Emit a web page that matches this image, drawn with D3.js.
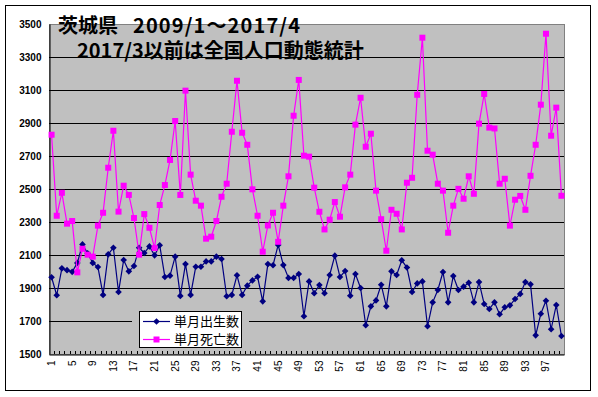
<!DOCTYPE html>
<html>
<head>
<meta charset="utf-8">
<title>茨城県 出生数・死亡数</title>
<style>
  body { margin: 0; background: #fff; }
  .tick text { font-family: Arial, "Liberation Sans", sans-serif; }
  .ttl { font-family: "Noto Sans CJK JP", sans-serif; font-weight: bold; font-size: 20px; }
  .leg { font-family: "Noto Sans CJK JP", sans-serif; font-size: 13px; }
</style>
</head>
<body>
<svg width="598" height="397"></svg>
<script src="https://d3js.org/d3.v7.min.js"></script>
<script>
// 月番号 1 = 2009/1 ... 100 = 2017/4
var months = d3.range(1, 101);
var xTickLabels = [1, 5, 9, 13, 17, 21, 25, 29, 33, 37, 41, 45, 49, 53, 57, 61, 65, 69, 73, 77, 81, 85, 89, 93, 97];
var yTicks = [1500, 1700, 1900, 2100, 2300, 2500, 2700, 2900, 3100, 3300, 3500];

// 単月出生数
var births = [1965, 1856, 2019, 2008, 1998, 2052, 2164, 2110, 2052, 2027,
  1858, 2104, 2144, 1876, 2070, 2001, 2033, 2144, 2112, 2152,
  2098, 2159, 1967, 1975, 2090, 1852, 2045, 1858, 2029, 2029,
  2061, 2061, 2090, 2076, 1850, 1858, 1977, 1858, 1914, 1946,
  1968, 1819, 2045, 2038, 2161, 2039, 1961, 1961, 1985, 1729,
  1940, 1868, 1918, 1868, 1979, 2096, 1967, 2003, 1853, 1985,
  1900, 1674, 1789, 1825, 1920, 1789, 2001, 1979, 2068, 2024,
  1876, 1928, 1940, 1668, 1813, 1888, 1997, 1813, 1973, 1888,
  1908, 1932, 1813, 1936, 1803, 1773, 1813, 1741, 1783, 1795,
  1833, 1864, 1936, 1922, 1613, 1744, 1823, 1650, 1797, 1609];

// 単月死亡数
var deaths = [2829, 2338, 2477, 2290, 2306, 1995, 2138, 2102, 2090, 2278,
  2356, 2629, 2853, 2363, 2520, 2464, 2324, 2102, 2348, 2265,
  2142, 2403, 2524, 2676, 2912, 2464, 3096, 2587, 2429, 2399,
  2199, 2211, 2306, 2453, 2532, 2847, 3156, 2841, 2768, 2498,
  2338, 2120, 2279, 2356, 2180, 2399, 2577, 2944, 3161, 2702,
  2696, 2508, 2362, 2255, 2314, 2421, 2332, 2510, 2587, 2890,
  3053, 2756, 2835, 2490, 2317, 2126, 2374, 2350, 2255, 2538,
  2568, 3071, 3417, 2732, 2708, 2532, 2490, 2235, 2399, 2501,
  2441, 2577, 2471, 2896, 3076, 2872, 2867, 2532, 2562, 2278,
  2435, 2458, 2374, 2580, 2768, 3011, 3441, 2823, 2993, 2459];

var seriesNames = ["単月出生数", "単月死亡数"];
var colors = ["#000080", "#ff00ff"];

var svg = d3.select("svg");
var pL = 49, pR = 564, pT = 24, pB = 354;

// 外枠
svg.append("rect")
  .attr("x", 5.5).attr("y", 5.5).attr("width", 585).attr("height", 385)
  .attr("fill", "#fff").attr("stroke", "#000").attr("stroke-width", 1);

var x = d3.scaleBand().domain(months).range([pL, pR]).padding(0);
var y = d3.scaleLinear().domain([1500, 3500]).range([pB, pT]);

// プロットエリア
svg.append("rect")
  .attr("x", pL + 0.5).attr("y", pT + 0.5).attr("width", pR - pL).attr("height", pB - pT)
  .attr("fill", "#c0c0c0").attr("stroke", "#808080").attr("stroke-width", 1);

// 目盛線
svg.append("g")
  .selectAll("line")
  .data(yTicks.slice(1, -1))
  .enter().append("line")
  .attr("x1", pL).attr("x2", pR)
  .attr("y1", function (d) { return Math.round(y(d)) + 0.5; })
  .attr("y2", function (d) { return Math.round(y(d)) + 0.5; })
  .attr("stroke", "#000").attr("stroke-width", 1);

// y軸
var yAxis = svg.append("g")
  .attr("transform", "translate(" + (pL + 0.5) + ",0)")
  .call(d3.axisLeft(y).tickValues(yTicks).tickFormat(d3.format("d")).tickSize(0).tickPadding(8));
yAxis.select(".domain").attr("stroke", "#000");
yAxis.selectAll("text").attr("font-size", "10px").attr("font-weight", "bold").attr("fill", "#000");

// x軸
var xAxis = svg.append("g")
  .attr("transform", "translate(0," + (pB + 0.5) + ")")
  .call(d3.axisBottom(x).tickValues(xTickLabels).tickSize(0));
xAxis.select(".domain").attr("stroke", "#000");
xAxis.selectAll("text")
  .attr("font-size", "10px").attr("fill", "#000")
  .attr("transform", "rotate(-90)")
  .attr("text-anchor", "end")
  .attr("x", -6).attr("y", 0).attr("dy", "0.35em");

// x軸の小目盛（内向き）
svg.append("g")
  .selectAll("line")
  .data(months.slice(1))
  .enter().append("line")
  .attr("x1", function (d) { return Math.round(x(d)) + 0.5; })
  .attr("x2", function (d) { return Math.round(x(d)) + 0.5; })
  .attr("y1", pB).attr("y2", pB - 3)
  .attr("stroke", "#000").attr("stroke-width", 1);

var line = function (vals) {
  return d3.line()
    .x(function (d, i) { return x(months[i]) + x.bandwidth() / 2; })
    .y(function (d) { return y(d); })(vals);
};

// 出生数
svg.append("path").attr("d", line(births))
  .attr("fill", "none").attr("stroke", colors[0]).attr("stroke-width", 1.2);
svg.append("g").selectAll("path")
  .data(births)
  .enter().append("path")
  .attr("d", d3.symbol().type(d3.symbolSquare).size(22))
  .attr("transform", function (d, i) {
    return "translate(" + (x(months[i]) + x.bandwidth() / 2) + "," + y(d) + ") rotate(45)";
  })
  .attr("fill", colors[0]);

// 死亡数
svg.append("path").attr("d", line(deaths))
  .attr("fill", "none").attr("stroke", colors[1]).attr("stroke-width", 1.2);
svg.append("g").selectAll("rect")
  .data(deaths)
  .enter().append("rect")
  .attr("x", function (d, i) { return x(months[i]) + x.bandwidth() / 2 - 3; })
  .attr("y", function (d) { return y(d) - 3; })
  .attr("width", 6).attr("height", 6)
  .attr("fill", colors[1]);

// タイトル
svg.append("text").attr("class", "ttl").attr("x", 58).attr("y", 33).text("茨城県");
svg.append("text").attr("class", "ttl").attr("x", 133).attr("y", 33)
  .attr("textLength", 167).attr("lengthAdjust", "spacing").text("2009/1～2017/4");
svg.append("text").attr("class", "ttl").attr("x", 77).attr("y", 58).text("2017/3以前は全国人口動態統計");

// 凡例
var leg = svg.append("g").attr("transform", "translate(139,311)");
leg.append("rect").attr("x", -7).attr("y", 0).attr("width", 117).attr("height", 36)
  .attr("fill", "#c0c0c0");
leg.append("rect").attr("x", 0.5).attr("y", 0.5).attr("width", 102).attr("height", 36)
  .attr("fill", "#fff").attr("stroke", "#000").attr("stroke-width", 1);
seriesNames.forEach(function (name, i) {
  var cy = 10.5 + i * 18;
  leg.append("line").attr("x1", 4).attr("x2", 31).attr("y1", cy).attr("y2", cy)
    .attr("stroke", colors[i]).attr("stroke-width", 1.2);
  if (i === 0) {
    leg.append("path").attr("d", d3.symbol().type(d3.symbolSquare).size(22))
      .attr("transform", "translate(17.5," + cy + ") rotate(45)").attr("fill", colors[i]);
  } else {
    leg.append("rect").attr("x", 14.5).attr("y", cy - 3).attr("width", 6).attr("height", 6)
      .attr("fill", colors[i]);
  }
  leg.append("text").attr("class", "leg").attr("x", 35).attr("y", cy).attr("dy", "0.36em")
    .text(name);
});
</script>
</body>
</html>
